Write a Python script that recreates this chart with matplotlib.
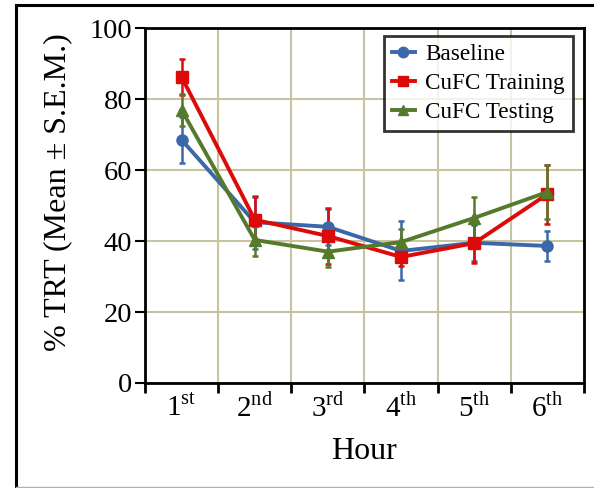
import matplotlib
matplotlib.use("Agg")
import matplotlib.pyplot as plt
from matplotlib.lines import Line2D
import numpy as np

plt.rcParams['font.family'] = ['Liberation Serif', 'DejaVu Serif']
plt.rcParams['mathtext.fontset'] = 'custom'
plt.rcParams['mathtext.rm'] = 'Liberation Serif'

hours = ["1$^{\\rm st}$", "2$^{\\rm nd}$", "3$^{\\rm rd}$", "4$^{\\rm th}$", "5$^{\\rm th}$", "6$^{\\rm th}$"]
baseline = [68.5, 45.3, 44.0, 37.2, 39.5, 38.6]
baseline_err = [6.5, 7.5, 5.0, 8.3, 5.0, 4.3]
training = [86.2, 46.0, 41.4, 35.5, 39.4, 53.2]
training_err = [5.0, 6.5, 8.0, 2.5, 5.5, 8.3]
testing = [76.9, 40.3, 37.0, 39.7, 46.5, 53.8]
testing_err = [4.5, 4.5, 4.3, 3.7, 6.0, 7.5]
yticks = [0, 20, 40, 60, 80, 100]

fig = plt.figure(figsize=(5.94, 4.88), dpi=100)
ax = fig.add_axes([145/594, 1-383/488, (584-145)/594, (383-28)/488])

# outer frame
fig.add_artist(Line2D([16/594, 16/594], [0, 1-5/488], transform=fig.transFigure, color='black', lw=2.2))
fig.add_artist(Line2D([16/594, 1], [1-5/488, 1-5/488], transform=fig.transFigure, color='black', lw=2.2))
fig.add_artist(Line2D([16/594, 1], [1.5/488, 1.5/488], transform=fig.transFigure, color='#b0b0b0', lw=1))

x = np.arange(len(hours))
series = [
    ("Baseline", baseline, baseline_err, '#3b68a8', 'o', 8),
    ("CuFC Training", training, training_err, '#dd0a0a', 's', 8),
    ("CuFC Testing", testing, testing_err, '#567a2c', '^', 8.5),
]
handles = []
for label, vals, errs, color, marker, ms in series:
    ax.errorbar(x, vals, yerr=errs, color=color, marker=marker, ms=ms, lw=2.8,
                elinewidth=1.8, capsize=2.5, capthick=1.8)
    handles.append(Line2D([], [], color=color, marker=marker, ms=7.5, lw=2.8, label=label))

ax.set_xlim(-0.5, 5.5)
ax.set_ylim(0, 100)
ax.set_xticks(np.arange(-0.5, 6.0, 1.0))
ax.set_xticklabels([])
ax.set_xticks(x, minor=True)
ax.set_xticklabels(hours, minor=True, fontsize=21)
ax.tick_params(axis='x', which='minor', length=0, pad=8)
ax.tick_params(axis='x', which='major', length=7, width=2, direction='out')
ax.set_yticks(yticks)
ax.set_yticklabels([str(v) for v in yticks], fontsize=20.5)
ax.tick_params(axis='y', length=7, width=1.5, direction='out', pad=2)

ax.grid(True, which='major', color='#c8c3a0', lw=1.5)
ax.set_axisbelow(True)
for s in ax.spines.values():
    s.set_linewidth(2)
    s.set_color('black')

ax.set_xlabel("Hour", fontsize=23, labelpad=10)
ax.set_ylabel("% TRT (Mean ± S.E.M.)", fontsize=23)
ax.yaxis.label.set_va('center')
ax.yaxis.set_label_coords((57.5-145)/439, (383-192.5)/355)

leg = ax.legend(handles=handles, loc='upper right', bbox_to_anchor=(1 - 11/439, 1 - 8/355), fontsize=16.7,
                frameon=True, fancybox=False, edgecolor='black', handlelength=1.0, handletextpad=0.45,
                borderpad=0.35, labelspacing=0.32, borderaxespad=0.0)
leg.get_frame().set_linewidth(2)

fig.savefig("out.png", dpi=100)
